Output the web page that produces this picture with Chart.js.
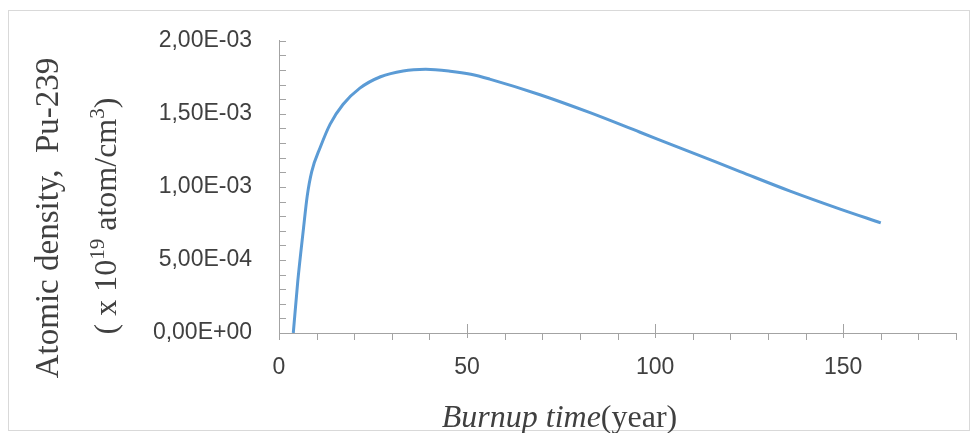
<!DOCTYPE html>
<html>
<head>
<meta charset="utf-8">
<script src="https://cdn.jsdelivr.net/npm/chart.js@4/dist/chart.umd.min.js"></script>
<style>
  body { margin: 0; background: #fff; }
  #wrap { width: 977px; height: 433px; }
</style>
</head>
<body>
<div id="wrap"><canvas id="chart" width="977" height="433"></canvas></div>
<script>
// burnup time (year) and Pu-239 atomic density (x 1e19 atom/cm3)
const burnupTime = [3.8, 5, 6.5, 7.5, 8.7, 11, 13.6, 17, 21.5, 27, 33, 39, 45.5, 51, 56, 69.4, 82.7, 96, 109.3, 122.6, 135.9, 149.2, 160];
const puDensity = [0, 0.000356, 0.000713, 0.000937, 0.001105, 0.001273, 0.00143, 0.001564, 0.001676, 0.001754, 0.001794, 0.001805,
                   0.001792, 0.001771, 0.001738, 0.001631, 0.001508, 0.001374, 0.00124, 0.001105, 0.000971, 0.000848, 0.000754];

const xMajor = [50, 100, 150];
const xLabels = [0, 50, 100, 150];

const yTitle1 = 'Atomic density,  Pu-239';
const yTitle2 = [['( x 10', false], ['19', true], [' atom/cm', false], ['3', true], [')', false]];
const xTitleItalic = 'Burnup time';
const xTitleRest = '(year)';

const axisColor = '#A3A3A3';
const textColor = '#404040';
const serif = '"Liberation Serif", "Times New Roman", serif';

function sciLabel(v) {
    let s = v.toExponential(2);
    let parts = s.split('e');
    let n = parseInt(parts[1]);
    let e = Math.abs(n) + '';
    if (e.length < 2) e = '0' + e;
    return parts[0].replace('.', ',') + 'E' + (n < 0 ? '-' : '+') + e;
}

const points = burnupTime.map((t, i) => ({ x: t, y: puDensity[i] }));

const decor = {
    id: 'decor',
    beforeDraw(chart) {
        const ctx = chart.ctx;
        ctx.save();
        ctx.fillStyle = '#fff';
        ctx.fillRect(0, 0, chart.width, chart.height);
        ctx.strokeStyle = '#D9D9D9';
        ctx.lineWidth = 1;
        ctx.strokeRect(8.5, 10.5, 961, 420);
        ctx.restore();
    },
    afterDraw(chart) {
        const ctx = chart.ctx;
        const xs = chart.scales.x;
        const ys = chart.scales.y;
        const area = chart.chartArea;
        ctx.save();
        ctx.strokeStyle = axisColor;
        ctx.lineWidth = 1;
        ctx.beginPath();
        // y ticks, inside
        for (let t of ys.ticks) {
            let py = Math.round(ys.getPixelForValue(t.value)) + 0.5;
            ctx.moveTo(area.left, py);
            ctx.lineTo(area.left + 7, py);
        }
        // x ticks: major inside (crossing), minor outside
        for (let t of xs.ticks) {
            let px = Math.round(xs.getPixelForValue(t.value)) + 0.5;
            if (xMajor.indexOf(t.value) != -1) {
                ctx.moveTo(px, area.bottom - 9);
                ctx.lineTo(px, area.bottom + 5);
            } else {
                ctx.moveTo(px, area.bottom);
                ctx.lineTo(px, area.bottom + 7);
            }
        }
        ctx.stroke();

        // y title, two rotated lines
        ctx.fillStyle = textColor;
        ctx.textBaseline = 'alphabetic';
        ctx.textAlign = 'left';
        ctx.save();
        ctx.translate(58, 218);
        ctx.rotate(-Math.PI / 2);
        ctx.font = '33px ' + serif;
        let w1 = ctx.measureText(yTitle1).width;
        ctx.fillText(yTitle1, -w1 / 2, 0);
        ctx.restore();

        ctx.save();
        ctx.translate(116, 216);
        ctx.rotate(-Math.PI / 2);
        let total = 0;
        for (let p of yTitle2) {
            ctx.font = (p[1] ? '21px ' : '32px ') + serif;
            total += ctx.measureText(p[0]).width;
        }
        let cx = -total / 2;
        for (let p of yTitle2) {
            ctx.font = (p[1] ? '21px ' : '32px ') + serif;
            ctx.fillText(p[0], cx, p[1] ? -12 : 0);
            cx += ctx.measureText(p[0]).width;
        }
        ctx.restore();

        // x title, italic part + regular part
        ctx.font = 'italic 32px ' + serif;
        let wi = ctx.measureText(xTitleItalic).width;
        ctx.font = '32px ' + serif;
        let wr = ctx.measureText(xTitleRest).width;
        let sx = 559.5 - (wi + wr) / 2;
        ctx.font = 'italic 32px ' + serif;
        ctx.fillText(xTitleItalic, sx, 427);
        ctx.font = '32px ' + serif;
        ctx.fillText(xTitleRest, sx + wi, 427);
        ctx.restore();
    }
};

new Chart(document.getElementById('chart'), {
    type: 'line',
    data: {
        datasets: [{
            data: points,
            borderColor: '#5B9BD5',
            borderWidth: 3,
            pointRadius: 0,
            fill: false,
            cubicInterpolationMode: 'monotone'
        }]
    },
    options: {
        responsive: false,
        animation: false,
        layout: { padding: { left: 0, right: 21, top: 35, bottom: 0 } },
        plugins: {
            legend: { display: false },
            tooltip: { enabled: false }
        },
        scales: {
            x: {
                type: 'linear',
                min: 0,
                max: 180,
                afterFit: (scale) => { scale.height = 100; },
                grid: { drawOnChartArea: false, drawTicks: false },
                border: { display: true, color: axisColor, width: 1 },
                ticks: {
                    stepSize: 10,
                    autoSkip: false,
                    maxRotation: 0,
                    padding: 21,
                    color: textColor,
                    font: { family: '"Liberation Sans", Arial, sans-serif', size: 23 },
                    callback: (v) => xLabels.indexOf(v) != -1 ? v + '' : ''
                }
            },
            y: {
                min: 0,
                max: 0.002,
                afterFit: (scale) => { scale.width = 279; },
                grid: { drawOnChartArea: false, drawTicks: false },
                border: { display: true, color: axisColor, width: 1 },
                ticks: {
                    stepSize: 0.0001,
                    autoSkip: false,
                    padding: 27,
                    color: textColor,
                    font: { family: '"Liberation Sans", Arial, sans-serif', size: 23 },
                    callback: (v) => Math.round(v / 0.0001) % 5 == 0 ? sciLabel(v) : ''
                }
            }
        }
    },
    plugins: [decor]
});
</script>
</body>
</html>
